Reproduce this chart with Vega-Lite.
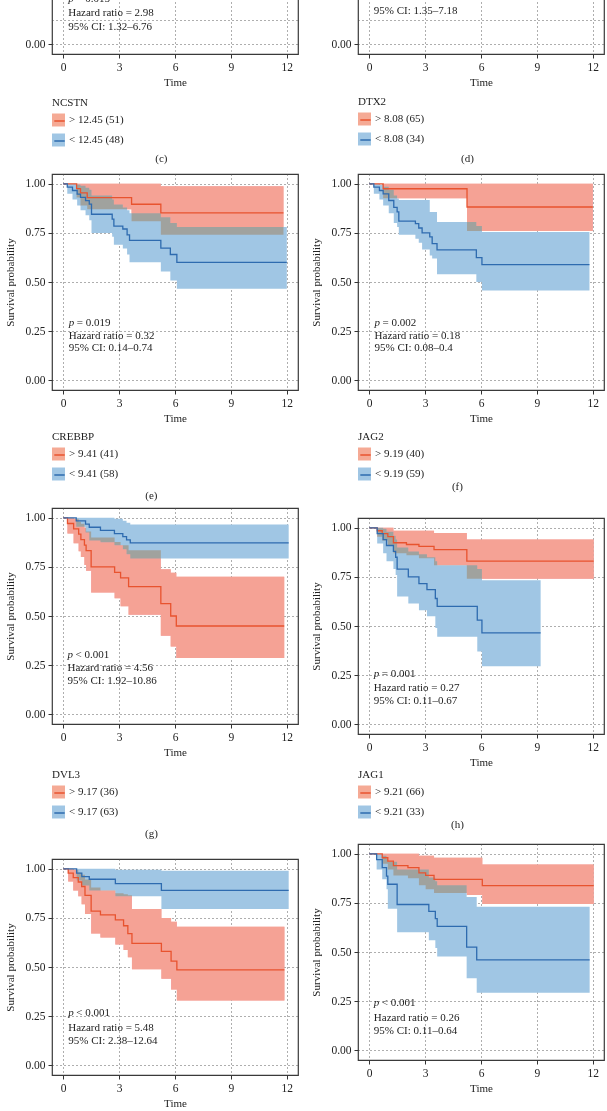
{
"$schema": "https://vega.github.io/schema/vega-lite/v6.json",
"padding": {"left": 4, "top": -163, "right": 0, "bottom": 0},
"background": "white",
"datasets": {
"km": [
{"p":"c","g":"hi","t":0,"s":1,"lo":1,"hi":1},{"p":"c","g":"lo","t":0,"s":1,"lo":1,"hi":1},
{"p":"d","g":"hi","t":0,"s":1,"lo":1,"hi":1},{"p":"d","g":"lo","t":0,"s":1,"lo":1,"hi":1},
{"p":"e","g":"hi","t":0,"s":1,"lo":1,"hi":1},
{"p":"e","g":"hi","t":0.72,"s":0.976,"lo":0.93,"hi":1},
{"p":"e","g":"hi","t":0.93,"s":0.954,"lo":0.89,"hi":1},
{"p":"e","g":"hi","t":1.29,"s":0.93,"lo":0.87,"hi":1},
{"p":"e","g":"hi","t":3.67,"s":0.896,"lo":0.81,"hi":1},
{"p":"e","g":"hi","t":5.24,"s":0.852,"lo":0.74,"hi":0.988},
{"p":"e","g":"hi","t":11.82,"s":0.852,"lo":0.74,"hi":0.988},
{"p":"e","g":"lo","t":0,"s":1,"lo":1,"hi":1},
{"p":"e","g":"lo","t":0.22,"s":0.983,"lo":0.95,"hi":1},
{"p":"e","g":"lo","t":0.5,"s":0.966,"lo":0.92,"hi":1},
{"p":"e","g":"lo","t":0.75,"s":0.948,"lo":0.89,"hi":0.995},
{"p":"e","g":"lo","t":0.93,"s":0.931,"lo":0.865,"hi":0.99},
{"p":"e","g":"lo","t":1.2,"s":0.914,"lo":0.84,"hi":0.98},
{"p":"e","g":"lo","t":1.4,"s":0.897,"lo":0.815,"hi":0.97},
{"p":"e","g":"lo","t":1.52,"s":0.845,"lo":0.75,"hi":0.94},
{"p":"e","g":"lo","t":2.63,"s":0.82,"lo":0.73,"hi":0.92},
{"p":"e","g":"lo","t":2.72,"s":0.785,"lo":0.69,"hi":0.895},
{"p":"e","g":"lo","t":3.2,"s":0.77,"lo":0.67,"hi":0.88},
{"p":"e","g":"lo","t":3.43,"s":0.74,"lo":0.64,"hi":0.865},
{"p":"e","g":"lo","t":3.56,"s":0.712,"lo":0.6,"hi":0.85},
{"p":"e","g":"lo","t":5.24,"s":0.673,"lo":0.553,"hi":0.83},
{"p":"e","g":"lo","t":5.75,"s":0.64,"lo":0.508,"hi":0.8},
{"p":"e","g":"lo","t":6.1,"s":0.6,"lo":0.465,"hi":0.78},
{"p":"e","g":"lo","t":12,"s":0.6,"lo":0.465,"hi":0.78},
{"p":"f","g":"hi","t":0,"s":1,"lo":1,"hi":1},
{"p":"f","g":"hi","t":0.75,"s":0.975,"lo":0.926,"hi":1},
{"p":"f","g":"hi","t":5.25,"s":0.882,"lo":0.76,"hi":1},
{"p":"f","g":"hi","t":12,"s":0.882,"lo":0.76,"hi":1},
{"p":"f","g":"lo","t":0,"s":1,"lo":1,"hi":1},
{"p":"f","g":"lo","t":0.25,"s":0.983,"lo":0.95,"hi":1},
{"p":"f","g":"lo","t":0.55,"s":0.966,"lo":0.92,"hi":0.995},
{"p":"f","g":"lo","t":0.75,"s":0.949,"lo":0.89,"hi":0.985},
{"p":"f","g":"lo","t":1.05,"s":0.915,"lo":0.85,"hi":0.97},
{"p":"f","g":"lo","t":1.32,"s":0.88,"lo":0.8,"hi":0.94},
{"p":"f","g":"lo","t":1.5,"s":0.857,"lo":0.78,"hi":0.925},
{"p":"f","g":"lo","t":1.59,"s":0.81,"lo":0.74,"hi":0.917},
{"p":"f","g":"lo","t":2.48,"s":0.797,"lo":0.72,"hi":0.917},
{"p":"f","g":"lo","t":2.66,"s":0.775,"lo":0.7,"hi":0.917},
{"p":"f","g":"lo","t":2.84,"s":0.75,"lo":0.665,"hi":0.917},
{"p":"f","g":"lo","t":3.25,"s":0.73,"lo":0.635,"hi":0.857},
{"p":"f","g":"lo","t":3.38,"s":0.695,"lo":0.62,"hi":0.857},
{"p":"f","g":"lo","t":3.64,"s":0.664,"lo":0.54,"hi":0.805},
{"p":"f","g":"lo","t":5.75,"s":0.624,"lo":0.5,"hi":0.785},
{"p":"f","g":"lo","t":6.05,"s":0.588,"lo":0.457,"hi":0.755},
{"p":"f","g":"lo","t":11.82,"s":0.588,"lo":0.457,"hi":0.755},
{"p":"g","g":"hi","t":0,"s":1,"lo":1,"hi":1},
{"p":"g","g":"hi","t":0.23,"s":0.971,"lo":0.92,"hi":1},
{"p":"g","g":"hi","t":0.56,"s":0.944,"lo":0.87,"hi":0.995},
{"p":"g","g":"hi","t":0.83,"s":0.917,"lo":0.83,"hi":0.98},
{"p":"g","g":"hi","t":0.95,"s":0.889,"lo":0.8,"hi":0.97},
{"p":"g","g":"hi","t":1.14,"s":0.861,"lo":0.76,"hi":0.95},
{"p":"g","g":"hi","t":1.23,"s":0.833,"lo":0.73,"hi":0.93},
{"p":"g","g":"hi","t":1.5,"s":0.75,"lo":0.62,"hi":0.9},
{"p":"g","g":"hi","t":2.76,"s":0.722,"lo":0.59,"hi":0.877},
{"p":"g","g":"hi","t":3.08,"s":0.694,"lo":0.55,"hi":0.86},
{"p":"g","g":"hi","t":3.51,"s":0.65,"lo":0.507,"hi":0.835},
{"p":"g","g":"hi","t":5.24,"s":0.563,"lo":0.4,"hi":0.738},
{"p":"g","g":"hi","t":5.77,"s":0.5,"lo":0.345,"hi":0.72},
{"p":"g","g":"hi","t":6.07,"s":0.449,"lo":0.286,"hi":0.7},
{"p":"g","g":"hi","t":11.86,"s":0.449,"lo":0.286,"hi":0.7},
{"p":"g","g":"lo","t":0,"s":1,"lo":1,"hi":1},
{"p":"g","g":"lo","t":0.7,"s":0.984,"lo":0.955,"hi":1},
{"p":"g","g":"lo","t":1.2,"s":0.968,"lo":0.925,"hi":1},
{"p":"g","g":"lo","t":1.4,"s":0.952,"lo":0.885,"hi":1},
{"p":"g","g":"lo","t":2.0,"s":0.936,"lo":0.876,"hi":1},
{"p":"g","g":"lo","t":2.75,"s":0.92,"lo":0.86,"hi":0.995},
{"p":"g","g":"lo","t":3.2,"s":0.904,"lo":0.84,"hi":0.985},
{"p":"g","g":"lo","t":3.4,"s":0.888,"lo":0.815,"hi":0.975},
{"p":"g","g":"lo","t":3.6,"s":0.872,"lo":0.793,"hi":0.966},
{"p":"g","g":"lo","t":12.1,"s":0.872,"lo":0.793,"hi":0.966},
{"p":"h","g":"hi","t":0,"s":1,"lo":1,"hi":1},
{"p":"h","g":"hi","t":0.43,"s":0.985,"lo":0.955,"hi":1},
{"p":"h","g":"hi","t":0.7,"s":0.97,"lo":0.935,"hi":1},
{"p":"h","g":"hi","t":1.0,"s":0.955,"lo":0.91,"hi":1},
{"p":"h","g":"hi","t":1.3,"s":0.924,"lo":0.87,"hi":0.985},
{"p":"h","g":"hi","t":2.0,"s":0.915,"lo":0.86,"hi":0.985},
{"p":"h","g":"hi","t":2.67,"s":0.906,"lo":0.845,"hi":0.985},
{"p":"h","g":"hi","t":3.48,"s":0.889,"lo":0.81,"hi":0.974},
{"p":"h","g":"hi","t":5.24,"s":0.83,"lo":0.74,"hi":0.94},
{"p":"h","g":"hi","t":12.05,"s":0.83,"lo":0.74,"hi":0.94},
{"p":"h","g":"lo","t":0,"s":1,"lo":1,"hi":1},
{"p":"h","g":"lo","t":0.43,"s":0.97,"lo":0.92,"hi":1},
{"p":"h","g":"lo","t":0.75,"s":0.94,"lo":0.87,"hi":0.995},
{"p":"h","g":"lo","t":0.93,"s":0.91,"lo":0.83,"hi":0.98},
{"p":"h","g":"lo","t":1.3,"s":0.88,"lo":0.79,"hi":0.96},
{"p":"h","g":"lo","t":1.42,"s":0.85,"lo":0.76,"hi":0.94},
{"p":"h","g":"lo","t":1.5,"s":0.79,"lo":0.65,"hi":0.9},
{"p":"h","g":"lo","t":2.1,"s":0.75,"lo":0.615,"hi":0.88},
{"p":"h","g":"lo","t":2.67,"s":0.716,"lo":0.58,"hi":0.865},
{"p":"h","g":"lo","t":3.1,"s":0.685,"lo":0.55,"hi":0.85},
{"p":"h","g":"lo","t":3.55,"s":0.64,"lo":0.49,"hi":0.83},
{"p":"h","g":"lo","t":3.65,"s":0.6,"lo":0.445,"hi":0.81},
{"p":"h","g":"lo","t":5.8,"s":0.53,"lo":0.37,"hi":0.79},
{"p":"h","g":"lo","t":6.05,"s":0.465,"lo":0.295,"hi":0.733},
{"p":"h","g":"lo","t":9.2,"s":0.465,"lo":0.295,"hi":0.733},
{"p":"i","g":"hi","t":0,"s":1,"lo":1,"hi":1},
{"p":"i","g":"hi","t":0.27,"s":0.978,"lo":0.935,"hi":1},
{"p":"i","g":"hi","t":0.54,"s":0.955,"lo":0.89,"hi":0.995},
{"p":"i","g":"hi","t":0.81,"s":0.933,"lo":0.86,"hi":0.98},
{"p":"i","g":"hi","t":0.99,"s":0.91,"lo":0.82,"hi":0.97},
{"p":"i","g":"hi","t":1.17,"s":0.865,"lo":0.77,"hi":0.945},
{"p":"i","g":"hi","t":1.5,"s":0.785,"lo":0.67,"hi":0.905},
{"p":"i","g":"hi","t":2.0,"s":0.765,"lo":0.65,"hi":0.89},
{"p":"i","g":"hi","t":2.8,"s":0.74,"lo":0.615,"hi":0.875},
{"p":"i","g":"hi","t":3.24,"s":0.71,"lo":0.587,"hi":0.87},
{"p":"i","g":"hi","t":3.47,"s":0.67,"lo":0.55,"hi":0.865},
{"p":"i","g":"hi","t":3.69,"s":0.62,"lo":0.488,"hi":0.796},
{"p":"i","g":"hi","t":5.27,"s":0.58,"lo":0.44,"hi":0.75},
{"p":"i","g":"hi","t":5.79,"s":0.53,"lo":0.385,"hi":0.73},
{"p":"i","g":"hi","t":6.1,"s":0.485,"lo":0.33,"hi":0.705},
{"p":"i","g":"hi","t":11.87,"s":0.485,"lo":0.33,"hi":0.705},
{"p":"i","g":"lo","t":0,"s":1,"lo":1,"hi":1},
{"p":"i","g":"lo","t":0.72,"s":0.978,"lo":0.94,"hi":1},
{"p":"i","g":"lo","t":1.0,"s":0.96,"lo":0.915,"hi":1},
{"p":"i","g":"lo","t":1.4,"s":0.947,"lo":0.89,"hi":1},
{"p":"i","g":"lo","t":2.8,"s":0.925,"lo":0.86,"hi":0.995},
{"p":"i","g":"lo","t":5.27,"s":0.89,"lo":0.796,"hi":0.99},
{"p":"i","g":"lo","t":12.1,"s":0.89,"lo":0.796,"hi":0.99},
{"p":"j","g":"hi","t":0,"s":1,"lo":1,"hi":1},
{"p":"j","g":"hi","t":0.7,"s":0.98,"lo":0.95,"hi":1},
{"p":"j","g":"hi","t":1.0,"s":0.963,"lo":0.92,"hi":1},
{"p":"j","g":"hi","t":1.3,"s":0.94,"lo":0.89,"hi":1},
{"p":"j","g":"hi","t":2.08,"s":0.93,"lo":0.875,"hi":1},
{"p":"j","g":"hi","t":2.67,"s":0.903,"lo":0.84,"hi":0.99},
{"p":"j","g":"hi","t":3.03,"s":0.89,"lo":0.82,"hi":0.99},
{"p":"j","g":"hi","t":3.48,"s":0.87,"lo":0.8,"hi":0.98},
{"p":"j","g":"hi","t":5.24,"s":0.87,"lo":0.79,"hi":0.98},
{"p":"j","g":"hi","t":6.07,"s":0.838,"lo":0.745,"hi":0.945},
{"p":"j","g":"hi","t":12.05,"s":0.838,"lo":0.745,"hi":0.945},
{"p":"j","g":"lo","t":0,"s":1,"lo":1,"hi":1},
{"p":"j","g":"lo","t":0.4,"s":0.97,"lo":0.92,"hi":1},
{"p":"j","g":"lo","t":0.7,"s":0.93,"lo":0.87,"hi":0.99},
{"p":"j","g":"lo","t":0.93,"s":0.886,"lo":0.82,"hi":0.975},
{"p":"j","g":"lo","t":1.0,"s":0.845,"lo":0.72,"hi":0.96},
{"p":"j","g":"lo","t":1.5,"s":0.742,"lo":0.6,"hi":0.92},
{"p":"j","g":"lo","t":3.2,"s":0.707,"lo":0.56,"hi":0.88},
{"p":"j","g":"lo","t":3.55,"s":0.67,"lo":0.52,"hi":0.86},
{"p":"j","g":"lo","t":3.65,"s":0.63,"lo":0.477,"hi":0.84},
{"p":"j","g":"lo","t":5.23,"s":0.525,"lo":0.366,"hi":0.78},
{"p":"j","g":"lo","t":5.77,"s":0.46,"lo":0.293,"hi":0.73},
{"p":"j","g":"lo","t":11.83,"s":0.46,"lo":0.293,"hi":0.73}
],
"ann": [
{"p":"c","k":"p","t":0.27,"y":0.228,"txt":"= 0.015"},
{"p":"c","k":"hr","t":0.27,"y":0.158,"txt":"Hazard ratio = 2.98"},
{"p":"c","k":"ci","t":0.27,"y":0.09,"txt":"95% CI: 1.32–6.76"},
{"p":"d","k":"ci","t":0.25,"y":0.167,"txt":"95% CI: 1.35–7.18"},
{"p":"e","k":"p","t":0.3,"y":0.29,"txt":"= 0.019"},
{"p":"e","k":"hr","t":0.3,"y":0.227,"txt":"Hazard ratio = 0.32"},
{"p":"e","k":"ci","t":0.3,"y":0.162,"txt":"95% CI: 0.14–0.74"},
{"p":"f","k":"p","t":0.29,"y":0.29,"txt":"= 0.002"},
{"p":"f","k":"hr","t":0.29,"y":0.227,"txt":"Hazard ratio = 0.18"},
{"p":"f","k":"ci","t":0.29,"y":0.162,"txt":"95% CI: 0.08–0.4"},
{"p":"g","k":"p","t":0.23,"y":0.3,"txt":"< 0.001"},
{"p":"g","k":"hr","t":0.23,"y":0.235,"txt":"Hazard ratio = 4.56"},
{"p":"g","k":"ci","t":0.23,"y":0.17,"txt":"95% CI: 1.92–10.86"},
{"p":"h","k":"p","t":0.25,"y":0.258,"txt":"= 0.001"},
{"p":"h","k":"hr","t":0.25,"y":0.186,"txt":"Hazard ratio = 0.27"},
{"p":"h","k":"ci","t":0.25,"y":0.116,"txt":"95% CI: 0.11–0.67"},
{"p":"i","k":"p","t":0.27,"y":0.264,"txt":"< 0.001"},
{"p":"i","k":"hr","t":0.27,"y":0.187,"txt":"Hazard ratio = 5.48"},
{"p":"i","k":"ci","t":0.27,"y":0.122,"txt":"95% CI: 2.38–12.64"},
{"p":"j","k":"p","t":0.25,"y":0.238,"txt":"< 0.001"},
{"p":"j","k":"hr","t":0.25,"y":0.165,"txt":"Hazard ratio = 0.26"},
{"p":"j","k":"ci","t":0.25,"y":0.097,"txt":"95% CI: 0.11–0.64"}
]
},
"bounds": "flush",
"spacing": 306,
"resolve": {"scale": {"fill": "independent", "stroke": "independent"}, "legend": {"fill": "independent", "stroke": "independent"}},
"hconcat": [
{
"bounds": "flush", "spacing": 0,
"resolve": {"scale": {"fill": "independent", "stroke": "independent"}, "legend": {"fill": "independent", "stroke": "independent"}},
"vconcat": [
{"width":246,"height":216,
"title":{"text":"(c)","orient":"bottom","frame":"bounds","anchor":"middle","offset":6},
"layer":[
{"data":{"name":"km"},"transform":[{"filter":"datum.p=='c' && datum.g=='hi'"}],"mark":{"type":"area","interpolate":"step-after","opacity":1},
"encoding":{"x":{"field":"t","type":"quantitative","title":"Time","scale":{"domain":[-0.6,12.6],"nice":false,"zero":false},"axis":{"values":[0,1.5,3,4.5,6,7.5,9,10.5,12],"labelExpr":"datum.value % 3 == 0 ? format(datum.value, 'd') : ''","tickOpacity":{"condition":{"test":"datum.value % 3 != 0","value":0},"value":1},"labelOverlap":false,"labelFlush":false}},
"y":{"field":"lo","type":"quantitative","title":null,"scale":{"domain":[-0.05,1.05],"nice":false,"zero":false},"axis":{"values":[0,0.125],"labelExpr":"(datum.value * 8) % 2 == 0 ? format(datum.value, '.2f') : ''","tickOpacity":{"condition":{"test":"(datum.value * 8) % 2 != 0","value":0},"value":1},"labelOverlap":false,"labelFlush":false}},
"y2":{"field":"hi"},
"fill":{"field":"g","type":"nominal","scale":{"domain":["hi","lo"],"range":["#F5AA95","#A0C6E4"]},"legend":{"title":"NCSTN","orient":"none","legendX":0,"legendY":258.5,"symbolType":"square","symbolSize":169,"symbolStrokeWidth":0,"labelExpr":"datum.label == 'hi' ? '> 12.45 (51)' : '< 12.45 (48)'","zindex":0}}}},
{"data":{"name":"km"},"transform":[{"filter":"datum.p=='c' && datum.g=='lo'"}],"mark":{"type":"area","interpolate":"step-after","opacity":1},
"encoding":{"x":{"field":"t","type":"quantitative","title":"Time","scale":{"domain":[-0.6,12.6],"nice":false,"zero":false}},"y":{"field":"lo","type":"quantitative","title":null,"scale":{"domain":[-0.05,1.05],"nice":false,"zero":false}},"y2":{"field":"hi"},"fill":{"field":"g","type":"nominal","scale":{"domain":["hi","lo"],"range":["#F5AA95","#A0C6E4"]}}}},
{"data":{"name":"km"},"transform":[{"filter":"datum.p=='c'"}],"mark":{"type":"line","interpolate":"step-after","strokeWidth":1.3},
"encoding":{"x":{"field":"t","type":"quantitative","title":"Time","scale":{"domain":[-0.6,12.6],"nice":false,"zero":false}},"y":{"field":"s","type":"quantitative","title":null,"scale":{"domain":[-0.05,1.05],"nice":false,"zero":false}},
"stroke":{"field":"g","type":"nominal","scale":{"range":["#E8532F","#2E6BAF"]},"legend":{"title":"NCSTN","orient":"none","legendX":0,"legendY":258.5,"symbolType":"M-0.8,0H0.8","symbolSize":169,"symbolStrokeWidth":1.5,"labelExpr":"datum.label == 'hi' ? '> 12.45 (51)' : '< 12.45 (48)'","labelOpacity":0,"titleOpacity":0,"zindex":1}}}},
{"data":{"name":"ann"},"transform":[{"filter":"datum.p=='c' && datum.k=='p'"}],"mark":{"type":"text","text":"p","fontStyle":"italic"},
"encoding":{"x":{"field":"t","type":"quantitative","title":"Time","scale":{"domain":[-0.6,12.6],"nice":false,"zero":false}},"y":{"field":"y","type":"quantitative","title":null,"scale":{"domain":[-0.05,1.05],"nice":false,"zero":false}}}},
{"data":{"name":"ann"},"transform":[{"filter":"datum.p=='c' && datum.k=='p'"}],"mark":{"type":"text","dx":8},
"encoding":{"x":{"field":"t","type":"quantitative","title":"Time","scale":{"domain":[-0.6,12.6],"nice":false,"zero":false}},"y":{"field":"y","type":"quantitative","title":null,"scale":{"domain":[-0.05,1.05],"nice":false,"zero":false}},"text":{"field":"txt"}}},
{"data":{"name":"ann"},"transform":[{"filter":"datum.p=='c' && datum.k!='p'"}],"mark":{"type":"text"},
"encoding":{"x":{"field":"t","type":"quantitative","title":"Time","scale":{"domain":[-0.6,12.6],"nice":false,"zero":false}},"y":{"field":"y","type":"quantitative","title":null,"scale":{"domain":[-0.05,1.05],"nice":false,"zero":false}},"text":{"field":"txt"}}}
]},
{"width":246,"height":120,"data":{"values":[]},"mark":"point","view":{"stroke":null}},
{"width":246,"height":216,
"title":{"text":"(e)","orient":"bottom","frame":"bounds","anchor":"middle","offset":9},
"layer":[
{"data":{"name":"km"},"transform":[{"filter":"datum.p=='e' && datum.g=='hi'"}],"mark":{"type":"area","interpolate":"step-after","opacity":1},
"encoding":{"x":{"field":"t","type":"quantitative","title":"Time","scale":{"domain":[-0.6,12.6],"nice":false,"zero":false},"axis":{"values":[0,1.5,3,4.5,6,7.5,9,10.5,12],"labelExpr":"datum.value % 3 == 0 ? format(datum.value, 'd') : ''","tickOpacity":{"condition":{"test":"datum.value % 3 != 0","value":0},"value":1},"labelOverlap":false,"labelFlush":false}},
"y":{"field":"lo","type":"quantitative","title":"Survival probability","scale":{"domain":[-0.05,1.05],"nice":false,"zero":false},"axis":{"values":[0,0.125,0.25,0.375,0.5,0.625,0.75,0.875,1],"labelExpr":"(datum.value * 8) % 2 == 0 ? format(datum.value, '.2f') : ''","tickOpacity":{"condition":{"test":"(datum.value * 8) % 2 != 0","value":0},"value":1},"labelOverlap":false,"labelFlush":false}},
"y2":{"field":"hi"},
"fill":{"field":"g","type":"nominal","scale":{"domain":["hi","lo"],"range":["#F5AA95","#A0C6E4"]},"legend":{"title":"CREBBP","orient":"none","legendX":0,"legendY":256.5,"symbolType":"square","symbolSize":169,"symbolStrokeWidth":0,"labelExpr":"datum.label == 'hi' ? '> 9.41 (41)' : '< 9.41 (58)'","zindex":0}}}},
{"data":{"name":"km"},"transform":[{"filter":"datum.p=='e' && datum.g=='lo'"}],"mark":{"type":"area","interpolate":"step-after","opacity":1},
"encoding":{"x":{"field":"t","type":"quantitative","title":"Time","scale":{"domain":[-0.6,12.6],"nice":false,"zero":false}},"y":{"field":"lo","type":"quantitative","title":"Survival probability","scale":{"domain":[-0.05,1.05],"nice":false,"zero":false}},"y2":{"field":"hi"},"fill":{"field":"g","type":"nominal","scale":{"domain":["hi","lo"],"range":["#F5AA95","#A0C6E4"]}}}},
{"data":{"name":"km"},"transform":[{"filter":"datum.p=='e' && datum.g=='hi'"}],"mark":{"type":"area","interpolate":"step-after","fill":"#F5A29E","opacity":1,"blend":"darken"},
"encoding":{"x":{"field":"t","type":"quantitative","title":"Time","scale":{"domain":[-0.6,12.6],"nice":false,"zero":false}},"y":{"field":"lo","type":"quantitative","title":"Survival probability","scale":{"domain":[-0.05,1.05],"nice":false,"zero":false}},"y2":{"field":"hi"}}},
{"data":{"name":"km"},"transform":[{"filter":"datum.p=='e'"}],"mark":{"type":"line","interpolate":"step-after","strokeWidth":1.3},
"encoding":{"x":{"field":"t","type":"quantitative","title":"Time","scale":{"domain":[-0.6,12.6],"nice":false,"zero":false}},"y":{"field":"s","type":"quantitative","title":"Survival probability","scale":{"domain":[-0.05,1.05],"nice":false,"zero":false}},
"stroke":{"field":"g","type":"nominal","scale":{"range":["#E8532F","#2E6BAF"]},"legend":{"title":"CREBBP","orient":"none","legendX":0,"legendY":256.5,"symbolType":"M-0.8,0H0.8","symbolSize":169,"symbolStrokeWidth":1.5,"labelExpr":"datum.label == 'hi' ? '> 9.41 (41)' : '< 9.41 (58)'","labelOpacity":0,"titleOpacity":0,"zindex":1}}}},
{"data":{"name":"ann"},"transform":[{"filter":"datum.p=='e' && datum.k=='p'"}],"mark":{"type":"text","text":"p","fontStyle":"italic"},
"encoding":{"x":{"field":"t","type":"quantitative","title":"Time","scale":{"domain":[-0.6,12.6],"nice":false,"zero":false}},"y":{"field":"y","type":"quantitative","title":"Survival probability","scale":{"domain":[-0.05,1.05],"nice":false,"zero":false}}}},
{"data":{"name":"ann"},"transform":[{"filter":"datum.p=='e' && datum.k=='p'"}],"mark":{"type":"text","dx":8},
"encoding":{"x":{"field":"t","type":"quantitative","title":"Time","scale":{"domain":[-0.6,12.6],"nice":false,"zero":false}},"y":{"field":"y","type":"quantitative","title":"Survival probability","scale":{"domain":[-0.05,1.05],"nice":false,"zero":false}},"text":{"field":"txt"}}},
{"data":{"name":"ann"},"transform":[{"filter":"datum.p=='e' && datum.k!='p'"}],"mark":{"type":"text"},
"encoding":{"x":{"field":"t","type":"quantitative","title":"Time","scale":{"domain":[-0.6,12.6],"nice":false,"zero":false}},"y":{"field":"y","type":"quantitative","title":"Survival probability","scale":{"domain":[-0.05,1.05],"nice":false,"zero":false}},"text":{"field":"txt"}}}
]},
{"width":246,"height":118,"data":{"values":[]},"mark":"point","view":{"stroke":null}},
{"width":246,"height":216,
"title":{"text":"(g)","orient":"bottom","frame":"bounds","anchor":"middle","offset":9},
"layer":[
{"data":{"name":"km"},"transform":[{"filter":"datum.p=='g' && datum.g=='hi'"}],"mark":{"type":"area","interpolate":"step-after","opacity":1},
"encoding":{"x":{"field":"t","type":"quantitative","title":"Time","scale":{"domain":[-0.6,12.6],"nice":false,"zero":false},"axis":{"values":[0,1.5,3,4.5,6,7.5,9,10.5,12],"labelExpr":"datum.value % 3 == 0 ? format(datum.value, 'd') : ''","tickOpacity":{"condition":{"test":"datum.value % 3 != 0","value":0},"value":1},"labelOverlap":false,"labelFlush":false}},
"y":{"field":"lo","type":"quantitative","title":"Survival probability","scale":{"domain":[-0.05,1.05],"nice":false,"zero":false},"axis":{"values":[0,0.125,0.25,0.375,0.5,0.625,0.75,0.875,1],"labelExpr":"(datum.value * 8) % 2 == 0 ? format(datum.value, '.2f') : ''","tickOpacity":{"condition":{"test":"(datum.value * 8) % 2 != 0","value":0},"value":1},"labelOverlap":false,"labelFlush":false}},
"y2":{"field":"hi"},
"fill":{"field":"g","type":"nominal","scale":{"domain":["hi","lo"],"range":["#F5AA95","#A0C6E4"]},"legend":{"title":"DVL3","orient":"none","legendX":0,"legendY":260.5,"symbolType":"square","symbolSize":169,"symbolStrokeWidth":0,"labelExpr":"datum.label == 'hi' ? '> 9.17 (36)' : '< 9.17 (63)'","zindex":0}}}},
{"data":{"name":"km"},"transform":[{"filter":"datum.p=='g' && datum.g=='lo'"}],"mark":{"type":"area","interpolate":"step-after","opacity":1},
"encoding":{"x":{"field":"t","type":"quantitative","title":"Time","scale":{"domain":[-0.6,12.6],"nice":false,"zero":false}},"y":{"field":"lo","type":"quantitative","title":"Survival probability","scale":{"domain":[-0.05,1.05],"nice":false,"zero":false}},"y2":{"field":"hi"},"fill":{"field":"g","type":"nominal","scale":{"domain":["hi","lo"],"range":["#F5AA95","#A0C6E4"]}}}},
{"data":{"name":"km"},"transform":[{"filter":"datum.p=='g' && datum.g=='hi'"}],"mark":{"type":"area","interpolate":"step-after","fill":"#F5A29E","opacity":1,"blend":"darken"},
"encoding":{"x":{"field":"t","type":"quantitative","title":"Time","scale":{"domain":[-0.6,12.6],"nice":false,"zero":false}},"y":{"field":"lo","type":"quantitative","title":"Survival probability","scale":{"domain":[-0.05,1.05],"nice":false,"zero":false}},"y2":{"field":"hi"}}},
{"data":{"name":"km"},"transform":[{"filter":"datum.p=='g'"}],"mark":{"type":"line","interpolate":"step-after","strokeWidth":1.3},
"encoding":{"x":{"field":"t","type":"quantitative","title":"Time","scale":{"domain":[-0.6,12.6],"nice":false,"zero":false}},"y":{"field":"s","type":"quantitative","title":"Survival probability","scale":{"domain":[-0.05,1.05],"nice":false,"zero":false}},
"stroke":{"field":"g","type":"nominal","scale":{"range":["#E8532F","#2E6BAF"]},"legend":{"title":"DVL3","orient":"none","legendX":0,"legendY":260.5,"symbolType":"M-0.8,0H0.8","symbolSize":169,"symbolStrokeWidth":1.5,"labelExpr":"datum.label == 'hi' ? '> 9.17 (36)' : '< 9.17 (63)'","labelOpacity":0,"titleOpacity":0,"zindex":1}}}},
{"data":{"name":"ann"},"transform":[{"filter":"datum.p=='g' && datum.k=='p'"}],"mark":{"type":"text","text":"p","fontStyle":"italic"},
"encoding":{"x":{"field":"t","type":"quantitative","title":"Time","scale":{"domain":[-0.6,12.6],"nice":false,"zero":false}},"y":{"field":"y","type":"quantitative","title":"Survival probability","scale":{"domain":[-0.05,1.05],"nice":false,"zero":false}}}},
{"data":{"name":"ann"},"transform":[{"filter":"datum.p=='g' && datum.k=='p'"}],"mark":{"type":"text","dx":8},
"encoding":{"x":{"field":"t","type":"quantitative","title":"Time","scale":{"domain":[-0.6,12.6],"nice":false,"zero":false}},"y":{"field":"y","type":"quantitative","title":"Survival probability","scale":{"domain":[-0.05,1.05],"nice":false,"zero":false}},"text":{"field":"txt"}}},
{"data":{"name":"ann"},"transform":[{"filter":"datum.p=='g' && datum.k!='p'"}],"mark":{"type":"text"},
"encoding":{"x":{"field":"t","type":"quantitative","title":"Time","scale":{"domain":[-0.6,12.6],"nice":false,"zero":false}},"y":{"field":"y","type":"quantitative","title":"Survival probability","scale":{"domain":[-0.05,1.05],"nice":false,"zero":false}},"text":{"field":"txt"}}}
]},
{"width":246,"height":135,"data":{"values":[]},"mark":"point","view":{"stroke":null}},
{"width":246,"height":216,
"layer":[
{"data":{"name":"km"},"transform":[{"filter":"datum.p=='i' && datum.g=='hi'"}],"mark":{"type":"area","interpolate":"step-after","opacity":1},
"encoding":{"x":{"field":"t","type":"quantitative","title":"Time","scale":{"domain":[-0.6,12.6],"nice":false,"zero":false},"axis":{"values":[0,1.5,3,4.5,6,7.5,9,10.5,12],"labelExpr":"datum.value % 3 == 0 ? format(datum.value, 'd') : ''","tickOpacity":{"condition":{"test":"datum.value % 3 != 0","value":0},"value":1},"labelOverlap":false,"labelFlush":false}},
"y":{"field":"lo","type":"quantitative","title":"Survival probability","scale":{"domain":[-0.05,1.05],"nice":false,"zero":false},"axis":{"values":[0,0.125,0.25,0.375,0.5,0.625,0.75,0.875,1],"labelExpr":"(datum.value * 8) % 2 == 0 ? format(datum.value, '.2f') : ''","tickOpacity":{"condition":{"test":"(datum.value * 8) % 2 != 0","value":0},"value":1},"labelOverlap":false,"labelFlush":false}},
"y2":{"field":"hi"},
"fill":{"field":"g","type":"nominal","scale":{"domain":["hi","lo"],"range":["#F5AA95","#A0C6E4"]},"legend":null}}},
{"data":{"name":"km"},"transform":[{"filter":"datum.p=='i' && datum.g=='lo'"}],"mark":{"type":"area","interpolate":"step-after","opacity":1},
"encoding":{"x":{"field":"t","type":"quantitative","title":"Time","scale":{"domain":[-0.6,12.6],"nice":false,"zero":false}},"y":{"field":"lo","type":"quantitative","title":"Survival probability","scale":{"domain":[-0.05,1.05],"nice":false,"zero":false}},"y2":{"field":"hi"},"fill":{"field":"g","type":"nominal","scale":{"domain":["hi","lo"],"range":["#F5AA95","#A0C6E4"]},"legend":null}}},
{"data":{"name":"km"},"transform":[{"filter":"datum.p=='i' && datum.g=='hi'"}],"mark":{"type":"area","interpolate":"step-after","fill":"#F5A29E","opacity":1,"blend":"darken"},
"encoding":{"x":{"field":"t","type":"quantitative","title":"Time","scale":{"domain":[-0.6,12.6],"nice":false,"zero":false}},"y":{"field":"lo","type":"quantitative","title":"Survival probability","scale":{"domain":[-0.05,1.05],"nice":false,"zero":false}},"y2":{"field":"hi"}}},
{"data":{"name":"km"},"transform":[{"filter":"datum.p=='i'"}],"mark":{"type":"line","interpolate":"step-after","strokeWidth":1.3},
"encoding":{"x":{"field":"t","type":"quantitative","title":"Time","scale":{"domain":[-0.6,12.6],"nice":false,"zero":false}},"y":{"field":"s","type":"quantitative","title":"Survival probability","scale":{"domain":[-0.05,1.05],"nice":false,"zero":false}},
"stroke":{"field":"g","type":"nominal","scale":{"range":["#E8532F","#2E6BAF"]},"legend":null}}},
{"data":{"name":"ann"},"transform":[{"filter":"datum.p=='i' && datum.k=='p'"}],"mark":{"type":"text","text":"p","fontStyle":"italic"},
"encoding":{"x":{"field":"t","type":"quantitative","title":"Time","scale":{"domain":[-0.6,12.6],"nice":false,"zero":false}},"y":{"field":"y","type":"quantitative","title":"Survival probability","scale":{"domain":[-0.05,1.05],"nice":false,"zero":false}}}},
{"data":{"name":"ann"},"transform":[{"filter":"datum.p=='i' && datum.k=='p'"}],"mark":{"type":"text","dx":8},
"encoding":{"x":{"field":"t","type":"quantitative","title":"Time","scale":{"domain":[-0.6,12.6],"nice":false,"zero":false}},"y":{"field":"y","type":"quantitative","title":"Survival probability","scale":{"domain":[-0.05,1.05],"nice":false,"zero":false}},"text":{"field":"txt"}}},
{"data":{"name":"ann"},"transform":[{"filter":"datum.p=='i' && datum.k!='p'"}],"mark":{"type":"text"},
"encoding":{"x":{"field":"t","type":"quantitative","title":"Time","scale":{"domain":[-0.6,12.6],"nice":false,"zero":false}},"y":{"field":"y","type":"quantitative","title":"Survival probability","scale":{"domain":[-0.05,1.05],"nice":false,"zero":false}},"text":{"field":"txt"}}}
]}
]
},
{
"bounds": "flush", "spacing": 0,
"resolve": {"scale": {"fill": "independent", "stroke": "independent"}, "legend": {"fill": "independent", "stroke": "independent"}},
"vconcat": [
{"width":246,"height":216,
"title":{"text":"(d)","orient":"bottom","frame":"bounds","anchor":"middle","offset":7},
"layer":[
{"data":{"name":"km"},"transform":[{"filter":"datum.p=='d' && datum.g=='hi'"}],"mark":{"type":"area","interpolate":"step-after","opacity":1},
"encoding":{"x":{"field":"t","type":"quantitative","title":"Time","scale":{"domain":[-0.6,12.6],"nice":false,"zero":false},"axis":{"values":[0,1.5,3,4.5,6,7.5,9,10.5,12],"labelExpr":"datum.value % 3 == 0 ? format(datum.value, 'd') : ''","tickOpacity":{"condition":{"test":"datum.value % 3 != 0","value":0},"value":1},"labelOverlap":false,"labelFlush":false}},
"y":{"field":"lo","type":"quantitative","title":null,"scale":{"domain":[-0.05,1.05],"nice":false,"zero":false},"axis":{"values":[0,0.125],"labelExpr":"(datum.value * 8) % 2 == 0 ? format(datum.value, '.2f') : ''","tickOpacity":{"condition":{"test":"(datum.value * 8) % 2 != 0","value":0},"value":1},"labelOverlap":false,"labelFlush":false}},
"y2":{"field":"hi"},
"fill":{"field":"g","type":"nominal","scale":{"domain":["hi","lo"],"range":["#F5AA95","#A0C6E4"]},"legend":{"title":"DTX2","orient":"none","legendX":0,"legendY":257.5,"symbolType":"square","symbolSize":169,"symbolStrokeWidth":0,"labelExpr":"datum.label == 'hi' ? '> 8.08 (65)' : '< 8.08 (34)'","zindex":0}}}},
{"data":{"name":"km"},"transform":[{"filter":"datum.p=='d' && datum.g=='lo'"}],"mark":{"type":"area","interpolate":"step-after","opacity":1},
"encoding":{"x":{"field":"t","type":"quantitative","title":"Time","scale":{"domain":[-0.6,12.6],"nice":false,"zero":false}},"y":{"field":"lo","type":"quantitative","title":null,"scale":{"domain":[-0.05,1.05],"nice":false,"zero":false}},"y2":{"field":"hi"},"fill":{"field":"g","type":"nominal","scale":{"domain":["hi","lo"],"range":["#F5AA95","#A0C6E4"]}}}},
{"data":{"name":"km"},"transform":[{"filter":"datum.p=='d'"}],"mark":{"type":"line","interpolate":"step-after","strokeWidth":1.3},
"encoding":{"x":{"field":"t","type":"quantitative","title":"Time","scale":{"domain":[-0.6,12.6],"nice":false,"zero":false}},"y":{"field":"s","type":"quantitative","title":null,"scale":{"domain":[-0.05,1.05],"nice":false,"zero":false}},
"stroke":{"field":"g","type":"nominal","scale":{"range":["#E8532F","#2E6BAF"]},"legend":{"title":"DTX2","orient":"none","legendX":0,"legendY":257.5,"symbolType":"M-0.8,0H0.8","symbolSize":169,"symbolStrokeWidth":1.5,"labelExpr":"datum.label == 'hi' ? '> 8.08 (65)' : '< 8.08 (34)'","labelOpacity":0,"titleOpacity":0,"zindex":1}}}},
{"data":{"name":"ann"},"transform":[{"filter":"datum.p=='d'"}],"mark":{"type":"text"},
"encoding":{"x":{"field":"t","type":"quantitative","title":"Time","scale":{"domain":[-0.6,12.6],"nice":false,"zero":false}},"y":{"field":"y","type":"quantitative","title":null,"scale":{"domain":[-0.05,1.05],"nice":false,"zero":false}},"text":{"field":"txt"}}}
]},
{"width":246,"height":120,"data":{"values":[]},"mark":"point","view":{"stroke":null}},
{"width":246,"height":216,
"title":{"text":"(f)","orient":"bottom","frame":"bounds","anchor":"middle","offset":0},
"layer":[
{"data":{"name":"km"},"transform":[{"filter":"datum.p=='f' && datum.g=='hi'"}],"mark":{"type":"area","interpolate":"step-after","opacity":1},
"encoding":{"x":{"field":"t","type":"quantitative","title":"Time","scale":{"domain":[-0.6,12.6],"nice":false,"zero":false},"axis":{"values":[0,1.5,3,4.5,6,7.5,9,10.5,12],"labelExpr":"datum.value % 3 == 0 ? format(datum.value, 'd') : ''","tickOpacity":{"condition":{"test":"datum.value % 3 != 0","value":0},"value":1},"labelOverlap":false,"labelFlush":false}},
"y":{"field":"lo","type":"quantitative","title":"Survival probability","scale":{"domain":[-0.05,1.05],"nice":false,"zero":false},"axis":{"values":[0,0.125,0.25,0.375,0.5,0.625,0.75,0.875,1],"labelExpr":"(datum.value * 8) % 2 == 0 ? format(datum.value, '.2f') : ''","tickOpacity":{"condition":{"test":"(datum.value * 8) % 2 != 0","value":0},"value":1},"labelOverlap":false,"labelFlush":false}},
"y2":{"field":"hi"},
"fill":{"field":"g","type":"nominal","scale":{"domain":["hi","lo"],"range":["#F5AA95","#A0C6E4"]},"legend":{"title":"JAG2","orient":"none","legendX":0,"legendY":256.5,"symbolType":"square","symbolSize":169,"symbolStrokeWidth":0,"labelExpr":"datum.label == 'hi' ? '> 9.19 (40)' : '< 9.19 (59)'","zindex":0}}}},
{"data":{"name":"km"},"transform":[{"filter":"datum.p=='f' && datum.g=='lo'"}],"mark":{"type":"area","interpolate":"step-after","opacity":1},
"encoding":{"x":{"field":"t","type":"quantitative","title":"Time","scale":{"domain":[-0.6,12.6],"nice":false,"zero":false}},"y":{"field":"lo","type":"quantitative","title":"Survival probability","scale":{"domain":[-0.05,1.05],"nice":false,"zero":false}},"y2":{"field":"hi"},"fill":{"field":"g","type":"nominal","scale":{"domain":["hi","lo"],"range":["#F5AA95","#A0C6E4"]}}}},
{"data":{"name":"km"},"transform":[{"filter":"datum.p=='f' && datum.g=='hi'"}],"mark":{"type":"area","interpolate":"step-after","fill":"#F5A29E","opacity":1,"blend":"darken"},
"encoding":{"x":{"field":"t","type":"quantitative","title":"Time","scale":{"domain":[-0.6,12.6],"nice":false,"zero":false}},"y":{"field":"lo","type":"quantitative","title":"Survival probability","scale":{"domain":[-0.05,1.05],"nice":false,"zero":false}},"y2":{"field":"hi"}}},
{"data":{"name":"km"},"transform":[{"filter":"datum.p=='f'"}],"mark":{"type":"line","interpolate":"step-after","strokeWidth":1.3},
"encoding":{"x":{"field":"t","type":"quantitative","title":"Time","scale":{"domain":[-0.6,12.6],"nice":false,"zero":false}},"y":{"field":"s","type":"quantitative","title":"Survival probability","scale":{"domain":[-0.05,1.05],"nice":false,"zero":false}},
"stroke":{"field":"g","type":"nominal","scale":{"range":["#E8532F","#2E6BAF"]},"legend":{"title":"JAG2","orient":"none","legendX":0,"legendY":256.5,"symbolType":"M-0.8,0H0.8","symbolSize":169,"symbolStrokeWidth":1.5,"labelExpr":"datum.label == 'hi' ? '> 9.19 (40)' : '< 9.19 (59)'","labelOpacity":0,"titleOpacity":0,"zindex":1}}}},
{"data":{"name":"ann"},"transform":[{"filter":"datum.p=='f' && datum.k=='p'"}],"mark":{"type":"text","text":"p","fontStyle":"italic"},
"encoding":{"x":{"field":"t","type":"quantitative","title":"Time","scale":{"domain":[-0.6,12.6],"nice":false,"zero":false}},"y":{"field":"y","type":"quantitative","title":"Survival probability","scale":{"domain":[-0.05,1.05],"nice":false,"zero":false}}}},
{"data":{"name":"ann"},"transform":[{"filter":"datum.p=='f' && datum.k=='p'"}],"mark":{"type":"text","dx":8},
"encoding":{"x":{"field":"t","type":"quantitative","title":"Time","scale":{"domain":[-0.6,12.6],"nice":false,"zero":false}},"y":{"field":"y","type":"quantitative","title":"Survival probability","scale":{"domain":[-0.05,1.05],"nice":false,"zero":false}},"text":{"field":"txt"}}},
{"data":{"name":"ann"},"transform":[{"filter":"datum.p=='f' && datum.k!='p'"}],"mark":{"type":"text"},
"encoding":{"x":{"field":"t","type":"quantitative","title":"Time","scale":{"domain":[-0.6,12.6],"nice":false,"zero":false}},"y":{"field":"y","type":"quantitative","title":"Survival probability","scale":{"domain":[-0.05,1.05],"nice":false,"zero":false}},"text":{"field":"txt"}}}
]},
{"width":246,"height":128,"data":{"values":[]},"mark":"point","view":{"stroke":null}},
{"width":246,"height":216,
"title":{"text":"(h)","orient":"bottom","frame":"bounds","anchor":"middle","offset":0},
"layer":[
{"data":{"name":"km"},"transform":[{"filter":"datum.p=='h' && datum.g=='hi'"}],"mark":{"type":"area","interpolate":"step-after","opacity":1},
"encoding":{"x":{"field":"t","type":"quantitative","title":"Time","scale":{"domain":[-0.6,12.6],"nice":false,"zero":false},"axis":{"values":[0,1.5,3,4.5,6,7.5,9,10.5,12],"labelExpr":"datum.value % 3 == 0 ? format(datum.value, 'd') : ''","tickOpacity":{"condition":{"test":"datum.value % 3 != 0","value":0},"value":1},"labelOverlap":false,"labelFlush":false}},
"y":{"field":"lo","type":"quantitative","title":"Survival probability","scale":{"domain":[-0.05,1.05],"nice":false,"zero":false},"axis":{"values":[0,0.125,0.25,0.375,0.5,0.625,0.75,0.875,1],"labelExpr":"(datum.value * 8) % 2 == 0 ? format(datum.value, '.2f') : ''","tickOpacity":{"condition":{"test":"(datum.value * 8) % 2 != 0","value":0},"value":1},"labelOverlap":false,"labelFlush":false}},
"y2":{"field":"hi"},
"fill":{"field":"g","type":"nominal","scale":{"domain":["hi","lo"],"range":["#F5AA95","#A0C6E4"]},"legend":{"title":"JAG1","orient":"none","legendX":0,"legendY":250.5,"symbolType":"square","symbolSize":169,"symbolStrokeWidth":0,"labelExpr":"datum.label == 'hi' ? '> 9.21 (66)' : '< 9.21 (33)'","zindex":0}}}},
{"data":{"name":"km"},"transform":[{"filter":"datum.p=='h' && datum.g=='lo'"}],"mark":{"type":"area","interpolate":"step-after","opacity":1},
"encoding":{"x":{"field":"t","type":"quantitative","title":"Time","scale":{"domain":[-0.6,12.6],"nice":false,"zero":false}},"y":{"field":"lo","type":"quantitative","title":"Survival probability","scale":{"domain":[-0.05,1.05],"nice":false,"zero":false}},"y2":{"field":"hi"},"fill":{"field":"g","type":"nominal","scale":{"domain":["hi","lo"],"range":["#F5AA95","#A0C6E4"]}}}},
{"data":{"name":"km"},"transform":[{"filter":"datum.p=='h' && datum.g=='hi'"}],"mark":{"type":"area","interpolate":"step-after","fill":"#F5A29E","opacity":1,"blend":"darken"},
"encoding":{"x":{"field":"t","type":"quantitative","title":"Time","scale":{"domain":[-0.6,12.6],"nice":false,"zero":false}},"y":{"field":"lo","type":"quantitative","title":"Survival probability","scale":{"domain":[-0.05,1.05],"nice":false,"zero":false}},"y2":{"field":"hi"}}},
{"data":{"name":"km"},"transform":[{"filter":"datum.p=='h'"}],"mark":{"type":"line","interpolate":"step-after","strokeWidth":1.3},
"encoding":{"x":{"field":"t","type":"quantitative","title":"Time","scale":{"domain":[-0.6,12.6],"nice":false,"zero":false}},"y":{"field":"s","type":"quantitative","title":"Survival probability","scale":{"domain":[-0.05,1.05],"nice":false,"zero":false}},
"stroke":{"field":"g","type":"nominal","scale":{"range":["#E8532F","#2E6BAF"]},"legend":{"title":"JAG1","orient":"none","legendX":0,"legendY":250.5,"symbolType":"M-0.8,0H0.8","symbolSize":169,"symbolStrokeWidth":1.5,"labelExpr":"datum.label == 'hi' ? '> 9.21 (66)' : '< 9.21 (33)'","labelOpacity":0,"titleOpacity":0,"zindex":1}}}},
{"data":{"name":"ann"},"transform":[{"filter":"datum.p=='h' && datum.k=='p'"}],"mark":{"type":"text","text":"p","fontStyle":"italic"},
"encoding":{"x":{"field":"t","type":"quantitative","title":"Time","scale":{"domain":[-0.6,12.6],"nice":false,"zero":false}},"y":{"field":"y","type":"quantitative","title":"Survival probability","scale":{"domain":[-0.05,1.05],"nice":false,"zero":false}}}},
{"data":{"name":"ann"},"transform":[{"filter":"datum.p=='h' && datum.k=='p'"}],"mark":{"type":"text","dx":8},
"encoding":{"x":{"field":"t","type":"quantitative","title":"Time","scale":{"domain":[-0.6,12.6],"nice":false,"zero":false}},"y":{"field":"y","type":"quantitative","title":"Survival probability","scale":{"domain":[-0.05,1.05],"nice":false,"zero":false}},"text":{"field":"txt"}}},
{"data":{"name":"ann"},"transform":[{"filter":"datum.p=='h' && datum.k!='p'"}],"mark":{"type":"text"},
"encoding":{"x":{"field":"t","type":"quantitative","title":"Time","scale":{"domain":[-0.6,12.6],"nice":false,"zero":false}},"y":{"field":"y","type":"quantitative","title":"Survival probability","scale":{"domain":[-0.05,1.05],"nice":false,"zero":false}},"text":{"field":"txt"}}}
]},
{"width":246,"height":110,"data":{"values":[]},"mark":"point","view":{"stroke":null}},
{"width":246,"height":216,
"layer":[
{"data":{"name":"km"},"transform":[{"filter":"datum.p=='j' && datum.g=='hi'"}],"mark":{"type":"area","interpolate":"step-after","opacity":1},
"encoding":{"x":{"field":"t","type":"quantitative","title":"Time","scale":{"domain":[-0.6,12.6],"nice":false,"zero":false},"axis":{"values":[0,1.5,3,4.5,6,7.5,9,10.5,12],"labelExpr":"datum.value % 3 == 0 ? format(datum.value, 'd') : ''","tickOpacity":{"condition":{"test":"datum.value % 3 != 0","value":0},"value":1},"labelOverlap":false,"labelFlush":false}},
"y":{"field":"lo","type":"quantitative","title":"Survival probability","scale":{"domain":[-0.05,1.05],"nice":false,"zero":false},"axis":{"values":[0,0.125,0.25,0.375,0.5,0.625,0.75,0.875,1],"labelExpr":"(datum.value * 8) % 2 == 0 ? format(datum.value, '.2f') : ''","tickOpacity":{"condition":{"test":"(datum.value * 8) % 2 != 0","value":0},"value":1},"labelOverlap":false,"labelFlush":false}},
"y2":{"field":"hi"},
"fill":{"field":"g","type":"nominal","scale":{"domain":["hi","lo"],"range":["#F5AA95","#A0C6E4"]},"legend":null}}},
{"data":{"name":"km"},"transform":[{"filter":"datum.p=='j' && datum.g=='lo'"}],"mark":{"type":"area","interpolate":"step-after","opacity":1},
"encoding":{"x":{"field":"t","type":"quantitative","title":"Time","scale":{"domain":[-0.6,12.6],"nice":false,"zero":false}},"y":{"field":"lo","type":"quantitative","title":"Survival probability","scale":{"domain":[-0.05,1.05],"nice":false,"zero":false}},"y2":{"field":"hi"},"fill":{"field":"g","type":"nominal","scale":{"domain":["hi","lo"],"range":["#F5AA95","#A0C6E4"]},"legend":null}}},
{"data":{"name":"km"},"transform":[{"filter":"datum.p=='j' && datum.g=='hi'"}],"mark":{"type":"area","interpolate":"step-after","fill":"#F5A29E","opacity":1,"blend":"darken"},
"encoding":{"x":{"field":"t","type":"quantitative","title":"Time","scale":{"domain":[-0.6,12.6],"nice":false,"zero":false}},"y":{"field":"lo","type":"quantitative","title":"Survival probability","scale":{"domain":[-0.05,1.05],"nice":false,"zero":false}},"y2":{"field":"hi"}}},
{"data":{"name":"km"},"transform":[{"filter":"datum.p=='j'"}],"mark":{"type":"line","interpolate":"step-after","strokeWidth":1.3},
"encoding":{"x":{"field":"t","type":"quantitative","title":"Time","scale":{"domain":[-0.6,12.6],"nice":false,"zero":false}},"y":{"field":"s","type":"quantitative","title":"Survival probability","scale":{"domain":[-0.05,1.05],"nice":false,"zero":false}},
"stroke":{"field":"g","type":"nominal","scale":{"range":["#E8532F","#2E6BAF"]},"legend":null}}},
{"data":{"name":"ann"},"transform":[{"filter":"datum.p=='j' && datum.k=='p'"}],"mark":{"type":"text","text":"p","fontStyle":"italic"},
"encoding":{"x":{"field":"t","type":"quantitative","title":"Time","scale":{"domain":[-0.6,12.6],"nice":false,"zero":false}},"y":{"field":"y","type":"quantitative","title":"Survival probability","scale":{"domain":[-0.05,1.05],"nice":false,"zero":false}}}},
{"data":{"name":"ann"},"transform":[{"filter":"datum.p=='j' && datum.k=='p'"}],"mark":{"type":"text","dx":8},
"encoding":{"x":{"field":"t","type":"quantitative","title":"Time","scale":{"domain":[-0.6,12.6],"nice":false,"zero":false}},"y":{"field":"y","type":"quantitative","title":"Survival probability","scale":{"domain":[-0.05,1.05],"nice":false,"zero":false}},"text":{"field":"txt"}}},
{"data":{"name":"ann"},"transform":[{"filter":"datum.p=='j' && datum.k!='p'"}],"mark":{"type":"text"},
"encoding":{"x":{"field":"t","type":"quantitative","title":"Time","scale":{"domain":[-0.6,12.6],"nice":false,"zero":false}},"y":{"field":"y","type":"quantitative","title":"Survival probability","scale":{"domain":[-0.05,1.05],"nice":false,"zero":false}},"text":{"field":"txt"}}}
]}
]
}
],
"config": {
"font": "Liberation Serif",
"view": {"stroke": "#3a3a3a", "strokeWidth": 1.2},
"axis": {"labelFont": "Liberation Serif", "labelFontSize": 11.5, "labelColor": "#222", "titleFont": "Liberation Serif", "titleFontSize": 11, "titleFontWeight": "normal", "titleColor": "#222", "domain": false, "tickColor": "#333", "tickSize": 4, "tickWidth": 1, "grid": true, "gridColor": "#4a4a4a", "gridDash": [1, 3], "gridWidth": 0.9, "zindex": 1, "labelPadding": 3},
"axisX": {"titlePadding": 4},
"axisY": {"titlePadding": 9},
"legend": {"titleFont": "Liberation Serif", "titleFontSize": 11, "titleFontWeight": "normal", "titleColor": "#222", "labelFont": "Liberation Serif", "labelFontSize": 11, "labelColor": "#222", "padding": 0, "titlePadding": 6, "rowPadding": 7, "labelOffset": 4, "offset": 0},
"title": {"font": "Liberation Serif", "fontSize": 11, "fontWeight": "normal", "color": "#222"},
"text": {"font": "Liberation Serif", "fontSize": 11, "color": "#222", "align": "left", "baseline": "middle"}
}
}
